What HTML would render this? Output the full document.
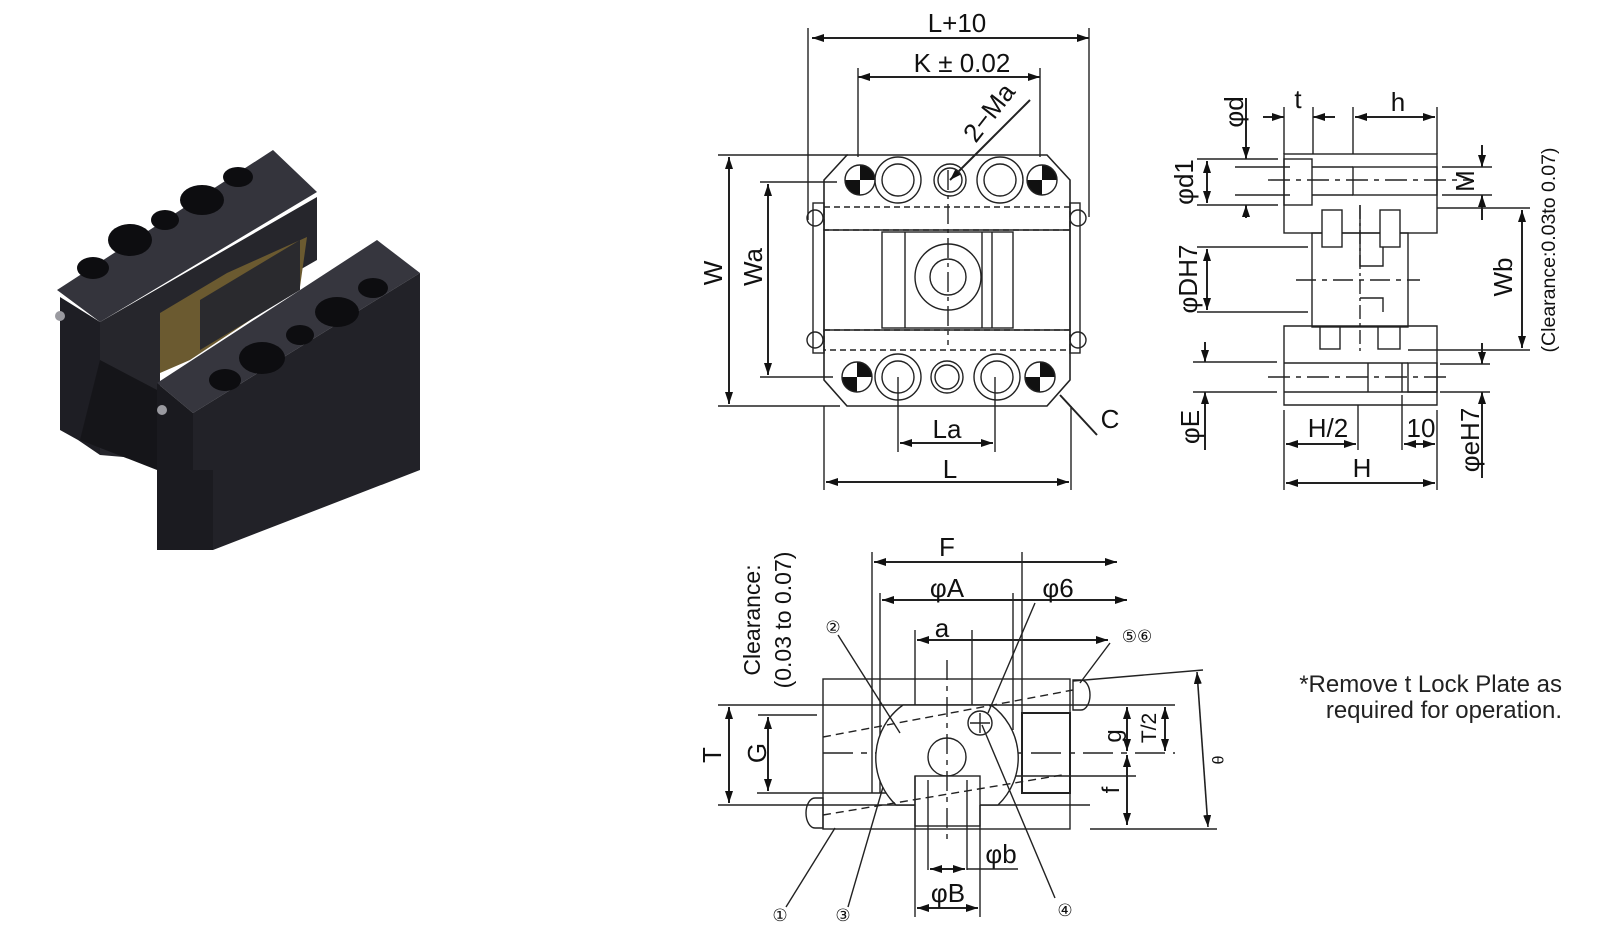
<!DOCTYPE html>
<html><head><meta charset="utf-8"><style>
html,body{margin:0;padding:0;background:#fff;}
svg{display:block;font-family:"Liberation Sans",sans-serif;}
</style></head><body>
<svg width="1600" height="940" viewBox="0 0 1600 940" xmlns="http://www.w3.org/2000/svg">
<defs>
<marker id="a" viewBox="0 0 12 8" refX="12" refY="4" markerWidth="12" markerHeight="8" markerUnits="userSpaceOnUse" orient="auto-start-reverse"><path d="M0,0L12,4L0,8z" fill="#111"/></marker>
</defs>

<!-- PHOTO -->
<g>
<polygon points="60,297 100,322 100,455 78,440 60,430" fill="#1e1e24"/>
<polygon points="100,322 317,197 317,260 160,350 160,460 100,455" fill="#26262c"/>
<polygon points="57,290 273,150 317,192 100,322" fill="#34343c"/>
<polygon points="160,313 227,273 307,237 300,287 190,360 160,373" fill="#6b5a30"/>
<polygon points="200,300 300,240 300,290 200,350" fill="#2a2a2e"/>
<polygon points="157,383 377,240 420,273 193,413" fill="#36363e"/>
<polygon points="193,413 420,273 420,470 213,550 157,550 157,470 193,470" fill="#222228"/>
<polygon points="157,383 193,413 193,470 157,470" fill="#1a1a1f"/>
<polygon points="157,470 213,470 213,550 157,550" fill="#1b1b20"/>
<polygon points="80,440 157,470 157,390 100,360" fill="#151519"/>
<g fill="#0d0d10">
<ellipse cx="93" cy="268" rx="16" ry="11"/><ellipse cx="130" cy="240" rx="22" ry="16"/><ellipse cx="165" cy="220" rx="14" ry="10"/><ellipse cx="202" cy="200" rx="22" ry="15"/><ellipse cx="238" cy="177" rx="15" ry="10"/>
<ellipse cx="225" cy="380" rx="16" ry="11"/><ellipse cx="262" cy="358" rx="23" ry="16"/><ellipse cx="300" cy="335" rx="14" ry="10"/><ellipse cx="337" cy="312" rx="22" ry="15"/><ellipse cx="373" cy="288" rx="15" ry="10"/>
</g>
<circle cx="60" cy="316" r="5" fill="#9a9aa0"/><circle cx="162" cy="410" r="5" fill="#9a9aa0"/>
</g>

<g stroke="#222" stroke-width="1.4" fill="none">
<!-- TOP VIEW -->
<line x1="812" y1="38" x2="1089" y2="38" marker-start="url(#a)" marker-end="url(#a)" stroke-width="2"/>
<line x1="808" y1="28" x2="808" y2="220"/><line x1="1089" y1="28" x2="1089" y2="217"/>
<line x1="858" y1="77" x2="1040" y2="77" marker-start="url(#a)" marker-end="url(#a)" stroke-width="2"/>
<line x1="858" y1="68" x2="858" y2="157"/><line x1="1040" y1="68" x2="1040" y2="157"/>
<line x1="1030" y1="100" x2="950" y2="180" marker-end="url(#a)" stroke-width="2"/>
<polygon points="847,155 1047,155 1070,180 1070,380 1047,406 847,406 824,380 824,180" stroke-width="1.6"/>
<line x1="729" y1="157" x2="729" y2="404" marker-start="url(#a)" marker-end="url(#a)" stroke-width="2"/>
<line x1="718" y1="155" x2="848" y2="155"/><line x1="718" y1="406" x2="840" y2="406"/>
<line x1="768" y1="184" x2="768" y2="375" marker-start="url(#a)" marker-end="url(#a)" stroke-width="2"/>
<line x1="760" y1="182" x2="837" y2="182"/><line x1="760" y1="377" x2="833" y2="377"/>
<line x1="824" y1="230" x2="1070" y2="230"/><line x1="824" y1="330" x2="1070" y2="330"/>
<rect x="824" y="207" width="246" height="23" stroke-dasharray="6,4"/>
<rect x="824" y="330" width="246" height="20" stroke-dasharray="6,4"/>
<rect x="813" y="203" width="11" height="150"/><rect x="1070" y="203" width="10" height="150"/>
<circle cx="815" cy="218" r="8"/><circle cx="815" cy="340" r="8"/><circle cx="1078" cy="218" r="8"/><circle cx="1078" cy="340" r="8"/>
<rect x="882" y="232" width="131" height="96"/>
<line x1="905" y1="232" x2="905" y2="328"/><line x1="982" y1="232" x2="982" y2="328"/><line x1="992" y1="232" x2="992" y2="328"/>
<circle cx="948" cy="277" r="33"/><circle cx="948" cy="277" r="18"/>
<line x1="948" y1="170" x2="948" y2="345" stroke-dasharray="20,5,4,5"/>
<circle cx="898" cy="180" r="23"/><circle cx="898" cy="180" r="16"/><circle cx="950" cy="180" r="16"/><circle cx="950" cy="180" r="12"/><circle cx="1000" cy="180" r="23"/><circle cx="1000" cy="180" r="16"/>
<circle cx="898" cy="377" r="23"/><circle cx="898" cy="377" r="16"/><circle cx="947" cy="377" r="16"/><circle cx="947" cy="377" r="12"/><circle cx="997" cy="377" r="23"/><circle cx="997" cy="377" r="16"/>
<line x1="898" y1="377" x2="898" y2="452"/><line x1="995" y1="377" x2="995" y2="452"/>
<line x1="900" y1="443" x2="993" y2="443" marker-start="url(#a)" marker-end="url(#a)" stroke-width="2"/>
<line x1="824" y1="406" x2="824" y2="490"/><line x1="1071" y1="406" x2="1071" y2="490"/>
<line x1="826" y1="482" x2="1069" y2="482" marker-start="url(#a)" marker-end="url(#a)" stroke-width="2"/>
<line x1="1060" y1="395" x2="1097" y2="435" stroke-width="2"/>
</g>
<g fill="#111">
<circle cx="860" cy="180" r="15"/><circle cx="1042" cy="180" r="15"/><circle cx="857" cy="377" r="15"/><circle cx="1040" cy="377" r="15"/>
</g>
<g fill="#fff">
<path d="M860,180h-15a15,15 0 0 1 15,-15z"/><path d="M860,180h15a15,15 0 0 1 -15,15z"/>
<path d="M1042,180h-15a15,15 0 0 1 15,-15z"/><path d="M1042,180h15a15,15 0 0 1 -15,15z"/>
<path d="M857,377h-15a15,15 0 0 1 15,-15z"/><path d="M857,377h15a15,15 0 0 1 -15,15z"/>
<path d="M1040,377h-15a15,15 0 0 1 15,-15z"/><path d="M1040,377h15a15,15 0 0 1 -15,15z"/>
</g>
<g fill="none" stroke="#222" stroke-width="1.4"><circle cx="860" cy="180" r="15"/><circle cx="1042" cy="180" r="15"/><circle cx="857" cy="377" r="15"/><circle cx="1040" cy="377" r="15"/></g>
<g font-size="26" fill="#111" text-anchor="middle">
<text x="957" y="32">L+10</text>
<text x="962" y="72">K ± 0.02</text>
<text transform="translate(996,118) rotate(-52)">2−Ma</text>
<text transform="translate(722,273) rotate(-90)">W</text>
<text transform="translate(762,267) rotate(-90)">Wa</text>
<text x="947" y="438">La</text>
<text x="950" y="478">L</text>
<text x="1110" y="428">C</text>
</g>

<!-- SIDE VIEW -->
<g stroke="#222" stroke-width="1.4" fill="none">
<rect x="1284" y="154" width="153" height="79"/>
<rect x="1284" y="159" width="28" height="46"/>
<rect x="1353" y="167" width="84" height="28"/>
<line x1="1312" y1="167" x2="1353" y2="167"/><line x1="1312" y1="195" x2="1353" y2="195"/>
<line x1="1268" y1="180" x2="1473" y2="180" stroke-dasharray="22,6,5,6"/>
<rect x="1312" y="233" width="96" height="94"/>
<rect x="1322" y="210" width="20" height="37" fill="#fff"/><rect x="1380" y="210" width="20" height="37" fill="#fff"/>
<path d="M1360,205V266H1383V247"/><path d="M1360,298H1383V312"/>
<line x1="1360" y1="205" x2="1360" y2="355" stroke-dasharray="14,4,3,4"/>
<line x1="1296" y1="280" x2="1420" y2="280" stroke-dasharray="20,6,5,6"/>
<path d="M1284,326H1437V405H1284Z"/>
<rect x="1320" y="327" width="20" height="22" fill="#fff"/><rect x="1378" y="327" width="22" height="22" fill="#fff"/>
<line x1="1284" y1="363" x2="1408" y2="363"/><line x1="1284" y1="392" x2="1437" y2="392"/>
<rect x="1408" y="363" width="29" height="29"/><line x1="1402" y1="363" x2="1402" y2="392"/>
<line x1="1368" y1="363" x2="1368" y2="392"/>
<line x1="1268" y1="377" x2="1450" y2="377" stroke-dasharray="22,6,5,6"/>
<line x1="1246" y1="98" x2="1246" y2="159" marker-end="url(#a)" stroke-width="2"/>
<line x1="1246" y1="218" x2="1246" y2="205" marker-end="url(#a)" stroke-width="2"/>
<line x1="1235" y1="167" x2="1290" y2="167"/><line x1="1235" y1="195" x2="1290" y2="195"/>
<line x1="1263" y1="117" x2="1284" y2="117" marker-end="url(#a)" stroke-width="2"/>
<line x1="1335" y1="117" x2="1313" y2="117" marker-end="url(#a)" stroke-width="2"/>
<line x1="1284" y1="107" x2="1284" y2="154"/><line x1="1313" y1="107" x2="1313" y2="154"/>
<line x1="1355" y1="117" x2="1435" y2="117" marker-start="url(#a)" marker-end="url(#a)" stroke-width="2"/>
<line x1="1353" y1="107" x2="1353" y2="154"/><line x1="1437" y1="107" x2="1437" y2="154"/>
<line x1="1207" y1="161" x2="1207" y2="203" marker-start="url(#a)" marker-end="url(#a)" stroke-width="2"/>
<line x1="1197" y1="159" x2="1278" y2="159"/><line x1="1197" y1="205" x2="1278" y2="205"/>
<line x1="1207" y1="249" x2="1207" y2="310" marker-start="url(#a)" marker-end="url(#a)" stroke-width="2"/>
<line x1="1197" y1="247" x2="1308" y2="247"/><line x1="1197" y1="312" x2="1308" y2="312"/>
<line x1="1205" y1="342" x2="1205" y2="362" marker-end="url(#a)" stroke-width="2"/>
<line x1="1205" y1="450" x2="1205" y2="392" marker-end="url(#a)" stroke-width="2"/>
<line x1="1193" y1="362" x2="1277" y2="362"/><line x1="1193" y1="392" x2="1277" y2="392"/>
<line x1="1284" y1="410" x2="1284" y2="490"/><line x1="1437" y1="410" x2="1437" y2="490"/><line x1="1358" y1="405" x2="1358" y2="450"/><line x1="1402" y1="395" x2="1402" y2="450"/>
<line x1="1286" y1="444" x2="1356" y2="444" marker-start="url(#a)" marker-end="url(#a)" stroke-width="2"/>
<line x1="1404" y1="444" x2="1435" y2="444" marker-start="url(#a)" marker-end="url(#a)" stroke-width="2"/>
<line x1="1286" y1="483" x2="1435" y2="483" marker-start="url(#a)" marker-end="url(#a)" stroke-width="2"/>
<line x1="1482" y1="145" x2="1482" y2="167" marker-end="url(#a)" stroke-width="2"/>
<line x1="1482" y1="220" x2="1482" y2="195" marker-end="url(#a)" stroke-width="2"/>
<line x1="1442" y1="167" x2="1492" y2="167"/><line x1="1442" y1="195" x2="1492" y2="195"/>
<line x1="1437" y1="208" x2="1530" y2="208"/><line x1="1408" y1="350" x2="1530" y2="350"/>
<line x1="1522" y1="210" x2="1522" y2="348" marker-start="url(#a)" marker-end="url(#a)" stroke-width="2"/>
<line x1="1482" y1="343" x2="1482" y2="364" marker-end="url(#a)" stroke-width="2"/>
<line x1="1482" y1="478" x2="1482" y2="392" marker-end="url(#a)" stroke-width="2"/>
<line x1="1440" y1="364" x2="1490" y2="364"/><line x1="1440" y1="392" x2="1490" y2="392"/>
</g>
<g font-size="26" fill="#111" text-anchor="middle">
<text transform="translate(1243,112) rotate(-90)">φd</text>
<text x="1298" y="108">t</text><text x="1398" y="111">h</text>
<text transform="translate(1193,182) rotate(-90)">φd1</text>
<text transform="translate(1197,279) rotate(-90)">φDH7</text>
<text transform="translate(1199,427) rotate(-90)">φE</text>
<text x="1328" y="437">H/2</text><text x="1421" y="437">10</text><text x="1362" y="477">H</text>
<text transform="translate(1474,181) rotate(-90)">M</text>
<text transform="translate(1512,277) rotate(-90)">Wb</text>
<text transform="translate(1479,440) rotate(-90)">φeH7</text>
<text transform="translate(1555,250) rotate(-90)" font-size="19.5">(Clearance:0.03to 0.07)</text>
</g>

<!-- BOTTOM VIEW -->
<g stroke="#222" stroke-width="1.4" fill="none">
<line x1="874" y1="562" x2="1117" y2="562" marker-start="url(#a)" marker-end="url(#a)" stroke-width="2"/>
<line x1="872" y1="552" x2="872" y2="793"/><line x1="1022" y1="552" x2="1022" y2="713"/>
<line x1="882" y1="600" x2="1127" y2="600" marker-start="url(#a)" marker-end="url(#a)" stroke-width="2"/>
<line x1="880" y1="593" x2="880" y2="793"/>
<line x1="917" y1="640" x2="1108" y2="640" marker-start="url(#a)" marker-end="url(#a)" stroke-width="2"/>
<line x1="915" y1="630" x2="915" y2="753"/><line x1="972" y1="630" x2="972" y2="753"/><line x1="1013" y1="593" x2="1013" y2="730"/>
<rect x="823" y="679" width="247" height="150"/>
<line x1="718" y1="705" x2="1175" y2="705"/><line x1="718" y1="805" x2="1090" y2="805"/>
<line x1="758" y1="715" x2="817" y2="715"/><line x1="757" y1="793" x2="900" y2="793"/>
<line x1="823" y1="753" x2="1175" y2="753" stroke-dasharray="30,8,6,8"/>
<line x1="1000" y1="776" x2="1136" y2="776"/>
<path d="M903,705H991A65,65 0 0 1 998,805H896A65,65 0 0 1 903,705Z" fill="#fff"/>
<line x1="1022" y1="713" x2="1022" y2="793"/><rect x="1022" y="713" width="48" height="80" stroke-width="2"/>
<circle cx="947" cy="757" r="19"/>
<circle cx="980" cy="723" r="12"/><line x1="970" y1="723" x2="990" y2="723"/><line x1="980" y1="713" x2="980" y2="733"/>
<rect x="915" y="776" width="65" height="50" fill="#fff"/>
<line x1="915" y1="776" x2="915" y2="917"/><line x1="980" y1="805" x2="980" y2="917"/>
<line x1="928" y1="780" x2="928" y2="870"/><line x1="967" y1="780" x2="967" y2="870"/>
<line x1="947" y1="660" x2="947" y2="840" stroke-dasharray="20,6,5,6"/>
<line x1="823" y1="737" x2="1073" y2="690" stroke-dasharray="8,5"/>
<line x1="823" y1="815" x2="1062" y2="775" stroke-dasharray="8,5"/>
<path d="M1073,680h8a9,15 0 0 1 0,30h-8z"/><path d="M823,798h-8a9,15 0 0 0 0,30h8z"/>
<line x1="729" y1="707" x2="729" y2="803" marker-start="url(#a)" marker-end="url(#a)" stroke-width="2"/>
<line x1="768" y1="717" x2="768" y2="791" marker-start="url(#a)" marker-end="url(#a)" stroke-width="2"/>
<line x1="1127" y1="707" x2="1127" y2="751" marker-start="url(#a)" marker-end="url(#a)" stroke-width="2"/>
<line x1="1165" y1="707" x2="1165" y2="751" marker-start="url(#a)" marker-end="url(#a)" stroke-width="2"/>
<line x1="1127" y1="755" x2="1127" y2="825" marker-start="url(#a)" marker-end="url(#a)" stroke-width="2"/>
<line x1="1090" y1="829" x2="1217" y2="829"/>
<line x1="1073" y1="681" x2="1203" y2="670"/>
<line x1="1197" y1="672" x2="1208" y2="827" marker-start="url(#a)" marker-end="url(#a)" stroke-width="1.6"/>
<line x1="930" y1="869" x2="965" y2="869" marker-start="url(#a)" marker-end="url(#a)" stroke-width="2"/>
<line x1="967" y1="869" x2="1018" y2="869"/>
<line x1="917" y1="908" x2="978" y2="908" marker-start="url(#a)" marker-end="url(#a)" stroke-width="2"/>
<line x1="1035" y1="603" x2="988" y2="713"/>
<line x1="1110" y1="643" x2="1080" y2="683"/>
<line x1="838" y1="635" x2="900" y2="733"/>
<line x1="786" y1="907" x2="835" y2="828"/>
<line x1="848" y1="907" x2="883" y2="787"/>
<line x1="1055" y1="898" x2="982" y2="725"/>
</g>
<g fill="#111" text-anchor="middle">
<text x="947" y="556" font-size="26">F</text>
<text x="947" y="597" font-size="26">φA</text>
<text x="1058" y="597" font-size="26">φ6</text>
<text x="942" y="637" font-size="26">a</text>
<text x="1137" y="642" font-size="17">⑤⑥</text>
<text x="833" y="633" font-size="17">②</text>
<text x="780" y="921" font-size="17">①</text>
<text x="843" y="921" font-size="17">③</text>
<text x="1065" y="916" font-size="17">④</text>
<text transform="translate(721,755) rotate(-90)" font-size="26">T</text>
<text transform="translate(766,753) rotate(-90)" font-size="26">G</text>
<text transform="translate(760,620) rotate(-90)" font-size="23">Clearance:</text>
<text transform="translate(791,620) rotate(-90)" font-size="23">(0.03 to 0.07)</text>
<text transform="translate(1121,736) rotate(-90)" font-size="24">g</text>
<text transform="translate(1156,728) rotate(-90)" font-size="21">T/2</text>
<text transform="translate(1119,790) rotate(-90)" font-size="24">f</text>
<text transform="translate(1212,760) rotate(90)" font-size="16">θ</text>
<text x="1001" y="863" font-size="26">φb</text>
<text x="948" y="902" font-size="26">φB</text>
</g>
<g fill="#222" font-size="24" text-anchor="end">
<text x="1562" y="692">*Remove t Lock Plate as</text>
<text x="1562" y="718">required for operation.</text>
</g>
</svg>
</body></html>
